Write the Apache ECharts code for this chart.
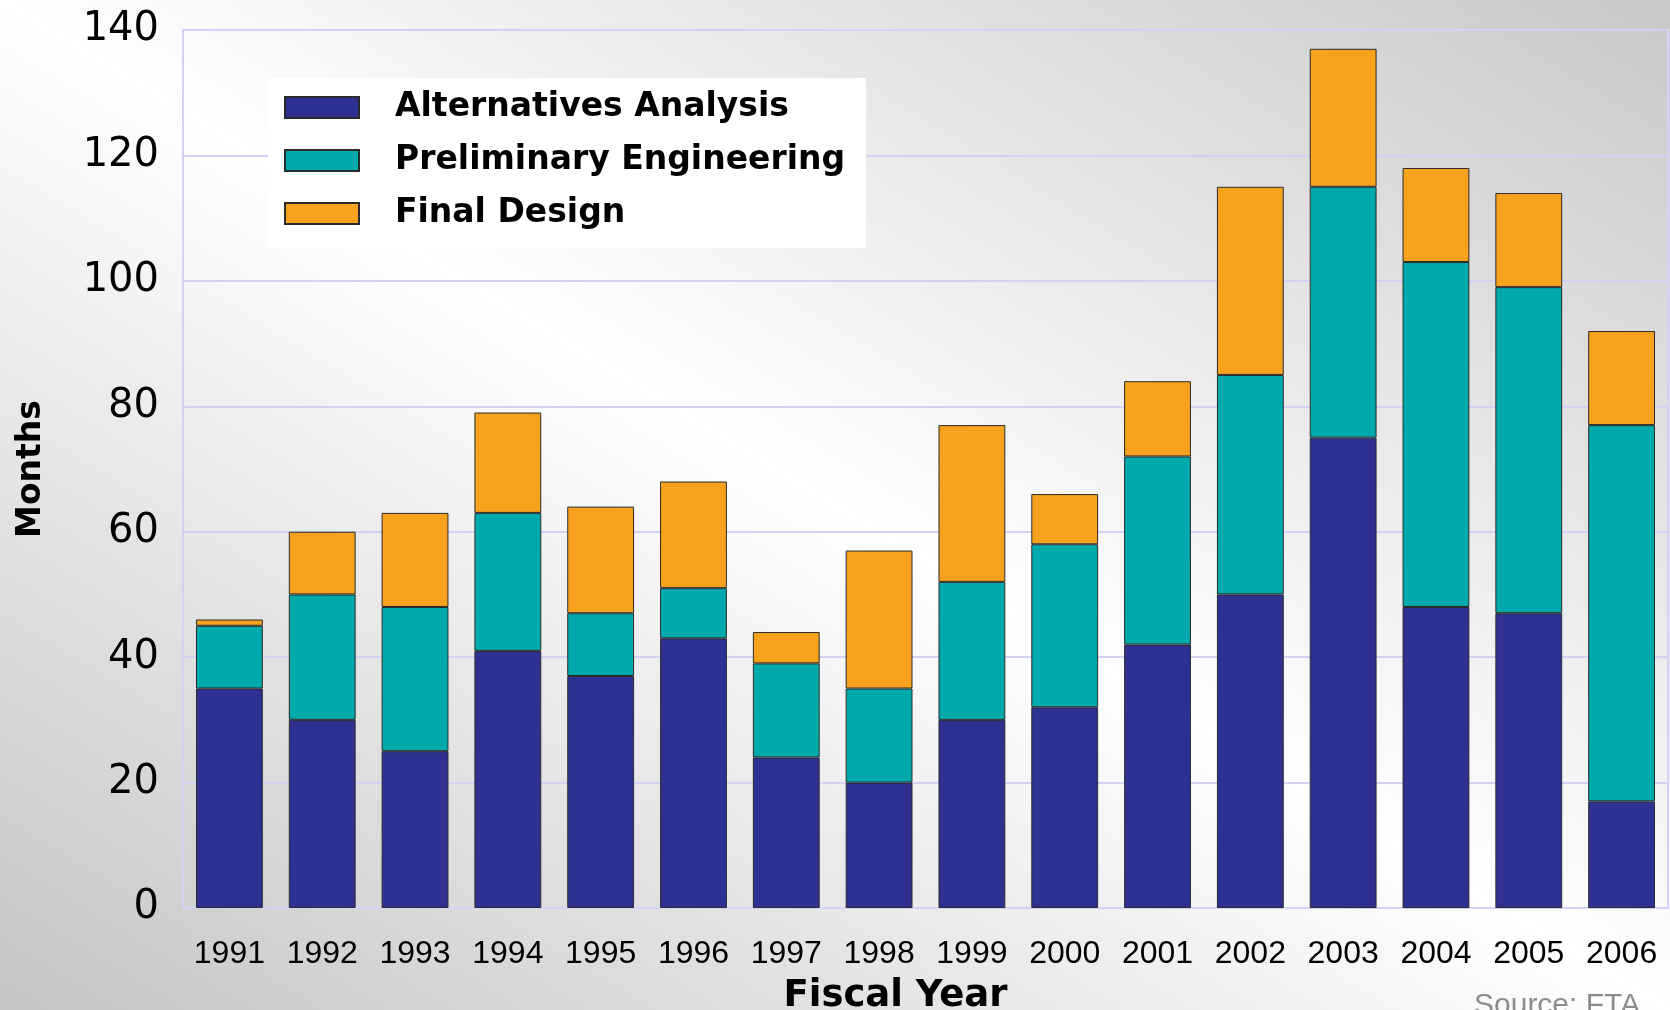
<!DOCTYPE html>
<html>
<head>
<meta charset="utf-8">
<script src="https://cdn.jsdelivr.net/npm/echarts@6/dist/echarts.min.js"></script>
<style>
  html, body { margin: 0; padding: 0; }
  #chart {
    width: 1670px; height: 1010px;
    background: linear-gradient(to top right, #c4c4c4 0%, #ffffff 50%, #c8c8c8 100%);
  }
</style>
</head>
<body>
<div id="chart"></div>
<script>
var years = ['1991', '1992', '1993', '1994', '1995', '1996', '1997', '1998',
             '1999', '2000', '2001', '2002', '2003', '2004', '2005', '2006'];
var altAnalysis = [35, 30, 25, 41, 37, 43, 24, 20, 30, 32, 42, 50, 75, 48, 47, 17];
var prelimEng = [10, 20, 23, 22, 10, 8, 15, 15, 22, 26, 30, 35, 40, 55, 52, 60];
var finalDesign = [1, 10, 15, 16, 17, 17, 5, 22, 25, 8, 12, 30, 22, 15, 15, 15];

var lav = '#d2d2f6';
var barBorder = {borderColor: '#2a2a2a', borderWidth: 1};

option = {
    backgroundColor: 'transparent',
    animation: false,
    grid: {
        left: 183,
        right: 2,
        top: 30,
        bottom: 102,
        containLabel: false,
        outerBoundsMode: 'none',
        show: true,
        borderColor: lav,
        borderWidth: 2
    },
    legend: {
        orient: 'vertical',
        left: 268,
        top: 78,
        padding: [13, 21, 18, 16],
        backgroundColor: '#ffffff',
        icon: 'rect',
        itemWidth: 74,
        itemHeight: 21,
        itemGap: 20,
        textStyle: {
            fontFamily: 'DejaVu Sans',
            fontWeight: 'bold',
            fontSize: 33,
            lineHeight: 33,
            color: '#000',
            padding: [0, 0, 0, 31]
        },
        data: ['Alternatives Analysis', 'Preliminary Engineering', 'Final Design']
    },
    xAxis: {
        type: 'category',
        data: years,
        name: 'Fiscal Year',
        nameLocation: 'middle',
        nameGap: 70,
        nameTextStyle: {
            fontFamily: 'DejaVu Sans',
            fontWeight: 'bold',
            fontSize: 37,
            color: '#000',
            padding: [0, 60, 0, 0]
        },
        axisLine: {lineStyle: {color: lav, width: 2}},
        axisTick: {inside: true, length: 22, lineStyle: {color: lav, width: 2}},
        axisLabel: {
            fontFamily: 'Liberation Sans',
            fontSize: 32,
            color: '#000',
            margin: 30
        }
    },
    yAxis: {
        type: 'value',
        min: 0,
        max: 140,
        interval: 20,
        name: 'Months',
        nameLocation: 'middle',
        nameGap: 135,
        nameTextStyle: {
            fontFamily: 'DejaVu Sans',
            fontWeight: 'bold',
            fontSize: 33,
            color: '#000'
        },
        axisLine: {show: true, lineStyle: {color: lav, width: 2}},
        axisTick: {show: false},
        splitLine: {lineStyle: {color: lav, width: 2}},
        axisLabel: {
            fontFamily: 'DejaVu Sans',
            fontSize: 40,
            color: '#000',
            margin: 24
        }
    },
    series: [
        {
            name: 'Alternatives Analysis',
            type: 'bar',
            stack: 'total',
            barWidth: '72%',
            itemStyle: Object.assign({color: '#2e3192'}, barBorder),
            data: altAnalysis
        },
        {
            name: 'Preliminary Engineering',
            type: 'bar',
            stack: 'total',
            itemStyle: Object.assign({color: '#00a9ab'}, barBorder),
            data: prelimEng
        },
        {
            name: 'Final Design',
            type: 'bar',
            stack: 'total',
            itemStyle: Object.assign({color: '#f7a21c'}, barBorder),
            data: finalDesign
        }
    ],
    graphic: [
        {
            type: 'text',
            left: 1474,
            top: 991,
            style: {
                text: 'Source: FTA',
                font: '30px "Liberation Sans"',
                fill: '#8c8c8c'
            }
        }
    ]
};
echarts.init(document.getElementById('chart')).setOption(option);
</script>
</body>
</html>
